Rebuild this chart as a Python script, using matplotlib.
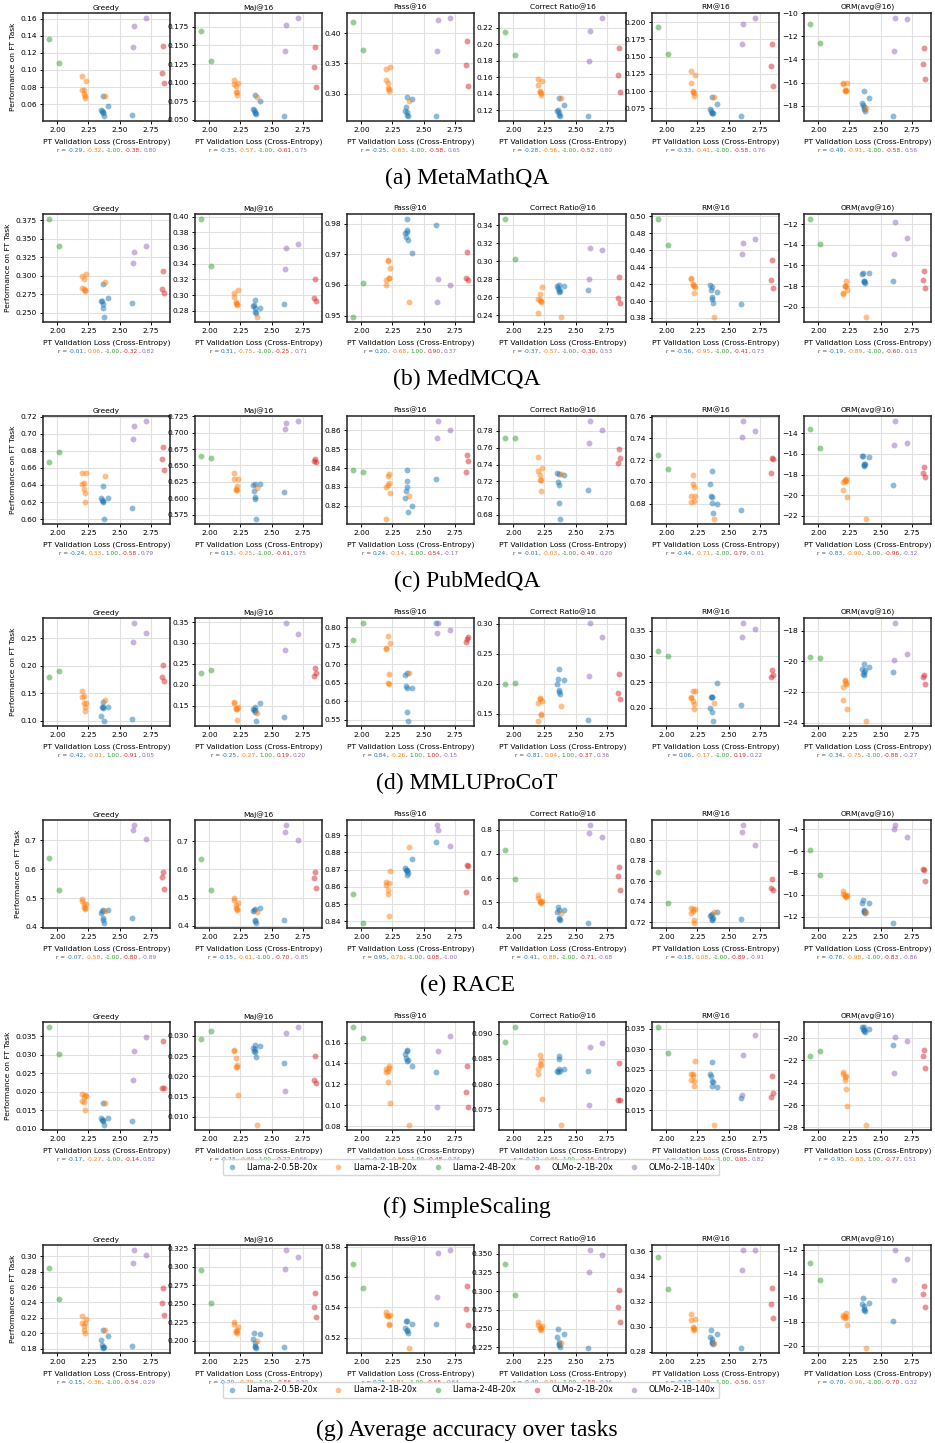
"""Pretraining loss vs. fine-tuning performance, one row per task."""

import matplotlib
matplotlib.use("Agg")
import matplotlib.pyplot as plt
from matplotlib.ticker import FormatStrFormatter
from matplotlib.lines import Line2D

MODELS = ["Llama-2-0.5B-20x", "Llama-2-1B-20x", "Llama-2-4B-20x",
          "OLMo-2-1B-20x", "OLMo-2-1B-140x"]
COLORS = ["tab:blue", "tab:orange", "tab:green", "tab:red", "tab:purple"]
METRICS = ["Greedy", "Maj@16", "Pass@16", "Correct Ratio@16", "RM@16", "ORM(avg@16)"]

# PT validation loss of every checkpoint, same in every panel
X_LOSS = [
    [2.35, 2.36, 2.365, 2.37, 2.37, 2.375, 2.41, 2.60],
    [2.20, 2.20, 2.21, 2.21, 2.22, 2.22, 2.23, 2.38],
    [1.93, 2.015],
    [2.845, 2.85, 2.86],
    [2.61, 2.62, 2.71],
]

# ---- (a) MetaMathQA ----
MATH_GREEDY = [[.053, .052, .051, .050, .069, .046, .058, .047],
               [.093, .077, .077, .072, .069, .067, .087, .070],
               [.136, .108], [.096, .128, .085], [.127, .151, .161]]
MATH_MAJ = [[.064, .063, .060, .059, .083, .058, .075, .055],
            [.104, .098, .095, .088, .087, .084, .099, .081],
            [.169, .129], [.121, .148, .094], [.143, .177, .187]]
MATH_PASS = [[.272, .278, .269, .265, .295, .263, .291, .263],
             [.340, .323, .317, .310, .307, .305, .344, .288],
             [.418, .372], [.347, .387, .313], [.370, .421, .425]]
MATH_CR = [[.119, .120, .117, .114, .135, .113, .127, .113],
           [.158, .151, .143, .142, .141, .139, .155, .135],
           [.215, .187], [.163, .195, .142], [.180, .216, .232]]
MATH_RM = [[.074, .071, .069, .068, .092, .068, .081, .064],
           [.129, .112, .101, .099, .097, .093, .124, .092],
           [.193, .154], [.136, .168, .108], [.168, .197, .206]]
MATH_ORM = [[-17.8, -17.9, -18.1, -18.3, -16.7, -18.5, -17.35, -18.9],
            [-16.1, -16.0, -16.6, -16.7, -16.7, -16.6, -16.0, -18.2],
            [-10.9, -12.6], [-14.4, -13.0, -15.7], [-13.3, -10.4, -10.5]]
MATH_R = [[-0.29, -0.32, -1.00, -0.38, 0.80], [-0.35, -0.57, -1.00, -0.61, 0.75],
          [-0.25, -0.63, -1.00, -0.58, 0.65], [-0.28, -0.56, -1.00, -0.52, 0.80],
          [-0.33, -0.41, -1.00, -0.58, 0.76], [-0.49, -0.91, -1.00, -0.58, 0.56]]

# ---- (b) MedMCQA ----
MED_GREEDY = [[.266, .266, .262, .256, .289, .244, .270, .263],
              [.300, .283, .295, .282, .281, .280, .302, .291],
              [.377, .340], [.282, .306, .276], [.317, .332, .340]]
MED_MAJ = [[.286, .287, .283, .279, .294, .277, .284, .289],
           [.303, .297, .290, .291, .289, .288, .306, .272],
           [.397, .337], [.296, .321, .293], [.333, .360, .365]]
MED_PASS = [[.9768, .9755, .9778, .9772, .9815, .9745, .9705, .9795],
            [.9615, .9600, .9682, .9678, .9622, .9622, .9655, .9545],
            [.9495, .9605], [.9622, .9708, .9617], [.9545, .9620, .9600]]
MED_CR = [[.273, .270, .268, .266, .274, .267, .272, .268],
          [.258, .243, .264, .257, .256, .255, .271, .238],
          [.347, .303], [.259, .282, .254], [.280, .315, .313]]
MED_RM = [[.419, .413, .405, .402, .417, .398, .411, .397],
          [.426, .427, .420, .419, .409, .418, .417, .381],
          [.497, .466], [.425, .448, .415], [.455, .469, .473]]
MED_ORM = [[-16.8, -16.7, -17.5, -17.6, -17.5, -17.7, -16.7, -17.5],
           [-18.7, -18.8, -18.0, -18.0, -17.5, -18.0, -18.4, -21.0],
           [-11.5, -13.9], [-17.4, -16.5, -18.2], [-14.9, -11.8, -13.3]]
MED_R = [[-0.01, 0.06, -1.00, -0.32, 0.82], [0.31, -0.75, -1.00, -0.25, 0.71],
         [0.20, -0.68, 1.00, 0.90, 0.37], [-0.37, -0.57, -1.00, -0.30, 0.53],
         [-0.56, -0.95, -1.00, -0.41, 0.73], [-0.19, -0.89, -1.00, -0.60, 0.13]]

# ---- (c) PubMedQA ----
PUB_GREEDY = [[.625, .622, .620, .621, .639, .600, .625, .613],
              [.654, .641, .642, .635, .630, .620, .654, .651],
              [.667, .678], [.670, .684, .658], [.694, .709, .715]]
PUB_MAJ = [[.620, .611, .601, .599, .621, .568, .622, .609],
           [.639, .629, .614, .612, .618, .613, .630, .616],
           [.665, .661], [.657, .660, .655], [.705, .715, .718]]
PUB_PASS = [[.824, .828, .830, .833, .839, .817, .820, .834],
            [.830, .813, .831, .836, .837, .832, .827, .825],
            [.839, .838], [.838, .847, .844], [.856, .865, .860]]
PUB_CR = [[.730, .719, .716, .694, .729, .675, .727, .710],
          [.749, .732, .727, .722, .721, .709, .736, .729],
          [.772, .772], [.742, .758, .748], [.766, .792, .781]]
PUB_RM = [[.698, .687, .686, .681, .710, .672, .680, .674],
          [.682, .687, .706, .698, .695, .683, .687, .666],
          [.725, .712], [.708, .722, .721], [.741, .756, .747]]
PUB_ORM = [[-16.2, -16.2, -17.0, -17.1, -17.2, -17.0, -16.3, -19.0],
           [-18.7, -19.5, -18.5, -18.6, -18.4, -18.6, -20.2, -22.3],
           [-13.6, -15.4], [-17.8, -17.3, -18.2], [-15.1, -12.8, -14.9]]
PUB_R = [[-0.24, 0.33, 1.00, -0.58, 0.79], [0.13, -0.25, -1.00, -0.61, 0.75],
         [0.24, -0.14, -1.00, 0.54, -0.17], [-0.01, -0.03, -1.00, -0.49, 0.20],
         [-0.44, -0.71, -1.00, 0.79, -0.01], [-0.83, -0.90, -1.00, -0.96, -0.32]]

# ---- (d) MMLUProCoT ----
MMLU_GREEDY = [[.108, .124, .122, .125, .133, .099, .124, .102],
               [.154, .143, .145, .132, .125, .118, .132, .138],
               [.180, .190], [.180, .202, .173], [.244, .278, .259]]
MMLU_MAJ = [[.143, .140, .140, .135, .147, .113, .157, .122],
            [.159, .157, .142, .145, .143, .115, .146, .133],
            [.229, .235], [.220, .241, .228], [.282, .348, .321]]
MMLU_PASS = [[.670, .640, .636, .570, .677, .546, .635, .812],
             [.740, .745, .776, .650, .647, .673, .758, .676],
             [.766, .811], [.760, .768, .775], [.786, .812, .793]]
MMLU_CR = [[.200, .208, .190, .186, .225, .183, .207, .140],
           [.168, .138, .177, .174, .150, .148, .172, .163],
           [.199, .201], [.185, .217, .174], [.213, .301, .278]]
MMLU_RM = [[.200, .220, .220, .191, .221, .174, .248, .205],
           [.220, .218, .232, .214, .207, .197, .232, .209],
           [.311, .300], [.259, .274, .264], [.338, .365, .354]]
MMLU_ORM = [[-20.5, -20.8, -20.9, -20.7, -20.2, -20.6, -20.4, -20.7],
            [-21.7, -22.5, -21.3, -21.2, -21.5, -21.4, -23.1, -23.9],
            [-19.7, -19.8], [-21.0, -20.9, -21.5], [-19.9, -17.5, -19.5]]
MMLU_R = [[-0.42, -0.01, 1.00, -0.91, 0.05], [-0.25, -0.27, 1.00, 0.19, 0.20],
          [0.84, -0.26, 1.00, 1.00, -0.15], [-0.81, 0.04, 1.00, -0.37, 0.36],
          [0.06, -0.17, -1.00, 0.19, 0.22], [-0.34, -0.75, -1.00, -0.88, -0.27]]

# ---- (e) RACE ----
RACE_GREEDY = [[.447, .455, .430, .425, .460, .413, .460, .430],
               [.497, .490, .480, .470, .465, .462, .478, .455],
               [.640, .527], [.573, .589, .530], [.737, .754, .705]]
RACE_MAJ = [[.452, .455, .422, .418, .460, .410, .465, .420],
            [.500, .490, .475, .465, .460, .458, .480, .450],
            [.638, .528], [.568, .590, .535], [.733, .757, .703]]
RACE_PASS = [[.871, .870, .869, .867, .870, .868, .876, .886],
             [.863, .861, .858, .856, .843, .862, .869, .883],
             [.856, .839], [.857, .873, .872], [.896, .893, .884]]
RACE_CR = [[.462, .480, .435, .430, .470, .428, .470, .415],
           [.530, .520, .505, .500, .500, .498, .505, .455],
           [.715, .595], [.610, .648, .552], [.788, .820, .771]]
RACE_RM = [[.726, .727, .723, .722, .728, .724, .730, .723],
           [.734, .729, .733, .731, .719, .722, .733, .730],
           [.769, .739], [.753, .762, .751], [.808, .815, .795]]
RACE_ORM = [[-10.8, -10.5, -11.5, -11.6, -11.4, -11.7, -10.8, -12.6],
            [-9.7, -9.9, -10.0, -10.1, -10.2, -10.1, -10.0, -11.6],
            [-5.9, -8.2], [-7.6, -7.7, -8.7], [-4.0, -3.6, -4.7]]
RACE_R = [[-0.07, -0.58, -1.00, -0.80, -0.89], [-0.15, -0.61, -1.00, -0.70, -0.85],
          [0.95, 0.76, -1.00, 0.08, -1.00], [-0.41, -0.88, -1.00, -0.71, -0.68],
          [-0.18, 0.08, -1.00, -0.89, -0.91], [-0.76, -0.98, -1.00, -0.83, -0.86]]

# ---- (f) SimpleScaling ----
SS_GREEDY = [[.0130, .0125, .0120, .0125, .0170, .0110, .0128, .0122],
             [.0195, .0175, .0185, .0172, .0190, .0152, .0188, .0170],
             [.0375, .0301], [.0210, .0337, .0210], [.0233, .0311, .0349]]
SS_MAJ = [[.0270, .0263, .0268, .0260, .0277, .0247, .0274, .0232],
          [.0265, .0262, .0245, .0224, .0228, .0222, .0155, .0080],
          [.0293, .0313], [.0190, .0250, .0183], [.0164, .0308, .0322]]
SS_PASS = [[.149, .145, .142, .152, .153, .143, .138, .132],
           [.135, .132, .122, .133, .136, .138, .102, .081],
           [.175, .164], [.113, .138, .098], [.098, .152, .166]]
SS_CR = [[.0825, .0823, .0830, .0850, .0855, .0826, .0830, .0825],
         [.0830, .0820, .0840, .0858, .0838, .0848, .0770, .0718],
         [.0884, .0914], [.0769, .0842, .0768], [.0758, .0873, .0882]]
SS_RM = [[.0238, .0233, .0222, .0210, .0268, .0220, .0208, .0180],
         [.0240, .0225, .0235, .0238, .0222, .0210, .0270, .0113],
         [.0355, .0290], [.0183, .0233, .0193], [.0187, .0286, .0335]]
SS_ORM = [[-19.0, -19.2, -19.4, -19.0, -19.3, -19.5, -19.2, -20.6],
          [-23.0, -23.2, -23.5, -23.8, -24.6, -23.4, -26.1, -27.8],
          [-21.6, -21.2], [-21.6, -21.1, -22.7], [-23.1, -19.9, -20.3]]
SS_R = [[-0.17, -0.27, -1.00, -0.14, 0.82], [-0.73, -0.88, 1.00, -0.22, 0.66],
        [-0.79, -0.86, -1.00, -0.48, 0.74], [-0.22, -0.85, 1.00, -0.16, 0.64],
        [-0.73, -0.94, -1.00, 0.05, 0.82], [-0.95, -0.83, 1.00, -0.77, 0.51]]

# ---- (g) Average accuracy over tasks ----
AVG_GREEDY = [[.191, .185, .183, .181, .205, .183, .196, .184],
              [.223, .214, .209, .205, .201, .213, .218, .205],
              [.285, .245], [.239, .259, .224], [.291, .308, .302]]
AVG_MAJ = [[.202, .210, .193, .191, .197, .190, .209, .192],
           [.225, .222, .213, .212, .211, .214, .219, .200],
           [.296, .251], [.246, .265, .232], [.297, .323, .314]]
AVG_PASS = [[.526, .531, .525, .524, .531, .523, .529, .529],
            [.537, .535, .534, .534, .528, .529, .535, .513],
            [.569, .553], [.539, .554, .528], [.547, .576, .578]]
AVG_CR = [[.239, .249, .230, .228, .232, .226, .243, .224],
          [.259, .255, .252, .250, .248, .251, .254, .231],
          [.336, .295], [.279, .302, .259], [.326, .355, .348]]
AVG_RM = [[.292, .297, .288, .287, .290, .286, .294, .283],
          [.310, .305, .300, .298, .297, .299, .306, .287],
          [.355, .330], [.318, .331, .307], [.345, .361, .361]]
AVG_ORM = [[-16.5, -16.0, -16.9, -17.0, -16.7, -17.1, -16.4, -17.9],
           [-17.4, -17.6, -17.5, -17.7, -17.3, -17.6, -18.3, -20.2],
           [-13.1, -14.5], [-15.7, -15.0, -16.8], [-14.5, -12.0, -12.8]]
AVG_R = [[-0.15, -0.36, -1.00, -0.54, 0.29], [-0.20, -0.79, -1.00, -0.56, 0.30],
         [0.25, -0.91, -1.00, -0.55, 0.64], [-0.40, -0.91, -1.00, -0.59, 0.36],
         [-0.52, -0.79, -1.00, -0.56, 0.57], [-0.70, -0.96, -1.00, -0.70, 0.32]]

TASKS = [
    ("(a) MetaMathQA", [MATH_GREEDY, MATH_MAJ, MATH_PASS, MATH_CR, MATH_RM, MATH_ORM], MATH_R),
    ("(b) MedMCQA", [MED_GREEDY, MED_MAJ, MED_PASS, MED_CR, MED_RM, MED_ORM], MED_R),
    ("(c) PubMedQA", [PUB_GREEDY, PUB_MAJ, PUB_PASS, PUB_CR, PUB_RM, PUB_ORM], PUB_R),
    ("(d) MMLUProCoT", [MMLU_GREEDY, MMLU_MAJ, MMLU_PASS, MMLU_CR, MMLU_RM, MMLU_ORM], MMLU_R),
    ("(e) RACE", [RACE_GREEDY, RACE_MAJ, RACE_PASS, RACE_CR, RACE_RM, RACE_ORM], RACE_R),
    ("(f) SimpleScaling", [SS_GREEDY, SS_MAJ, SS_PASS, SS_CR, SS_RM, SS_ORM], SS_R),
    ("(g) Average accuracy over tasks", [AVG_GREEDY, AVG_MAJ, AVG_PASS, AVG_CR, AVG_RM, AVG_ORM], AVG_R),
]
LEGEND_ROWS = [5, 6]

W, H = 935, 1443
COL_LEFT = [43, 195, 347, 499, 652, 804]
AX_W, AX_H = 127, 108
ROW_TOP = [13, 214, 416, 618, 820, 1022, 1245]
GRAY = "#444444"
FS = 5.4
RFS = 4.2

fig = plt.figure(figsize=(W / 100, H / 100), dpi=100)


def r_line(ax, xc_px, yb_px, vals):
    """Colored 'r = a, b, c' line; pieces chained so they sit side by side."""
    first = fig.text(xc_px / W, 1 - yb_px / H, "r =", color=GRAY, fontsize=RFS,
                     ha="left", va="bottom")
    pieces = [first]
    prev = first
    for i, (v, c) in enumerate(zip(vals, COLORS)):
        prev = ax.annotate(f"{v:.2f}", xy=(1, 0), xycoords=prev, xytext=(1.3, 0),
                           textcoords="offset points", color=c, fontsize=RFS,
                           ha="left", va="bottom", annotation_clip=False)
        pieces.append(prev)
        if i < len(vals) - 1:
            prev = ax.annotate(",", xy=(1, 0), xycoords=prev, color=GRAY, fontsize=RFS,
                               ha="left", va="bottom", annotation_clip=False)
            pieces.append(prev)
    return first, pieces, xc_px


lines = []
for row, (caption, panels, rvals) in enumerate(TASKS):
    top = ROW_TOP[row]
    bottom = top + AX_H
    for col, (metric, series) in enumerate(zip(METRICS, panels)):
        ax = fig.add_axes([COL_LEFT[col] / W, 1 - bottom / H, AX_W / W, AX_H / H])
        for xs, ys, c in zip(X_LOSS, series, COLORS):
            ax.scatter(xs, ys, s=18, color=c, alpha=0.5, linewidths=0, zorder=3)
        ax.set_xticks([2.00, 2.25, 2.50, 2.75])
        ax.xaxis.set_major_formatter(FormatStrFormatter("%.2f"))
        ax.tick_params(labelsize=FS, length=2.5, width=0.7, pad=2)
        ax.grid(True, color="#e0e0e0", linewidth=0.8, zorder=0)
        ax.set_axisbelow(True)
        for sp in ax.spines.values():
            sp.set_linewidth(1.1)
            sp.set_color("#222222")
        ax.set_title(metric, fontsize=FS, pad=2.5)
        ax.set_xlabel("PT Validation Loss (Cross-Entropy)", fontsize=FS, labelpad=3.5)
        if col == 0:
            ax.set_ylabel("Performance on FT Task", fontsize=FS, labelpad=3)
        lines.append(r_line(ax, COL_LEFT[col] + AX_W / 2, bottom + 32, rvals[col]))

    if row in LEGEND_ROWS:
        handles = [Line2D([], [], marker="o", linestyle="", color=c, alpha=0.5,
                          markersize=4, markeredgewidth=0) for c in COLORS]
        fig.legend(handles, MODELS, loc="center", ncol=5, fontsize=5.8,
                   bbox_to_anchor=(471 / W, 1 - (bottom + 37) / H),
                   frameon=True, handlelength=1.2, handletextpad=1.2,
                   columnspacing=2.0, borderpad=0.45, fancybox=True,
                   edgecolor="#cccccc")
        cap_y = bottom + 77
    else:
        cap_y = bottom + 57
    fig.text(467 / W, 1 - cap_y / H, caption, fontsize=17, family="Liberation Serif",
             ha="center", va="center")

# center each r line under its panel
fig.canvas.draw()
for first, pieces, xc in lines:
    x0 = pieces[0].get_window_extent().x0
    x1 = pieces[-1].get_window_extent().x1
    first.set_x((xc - (x1 - x0) / 2) / W)

fig.savefig("out.png", dpi=100)
